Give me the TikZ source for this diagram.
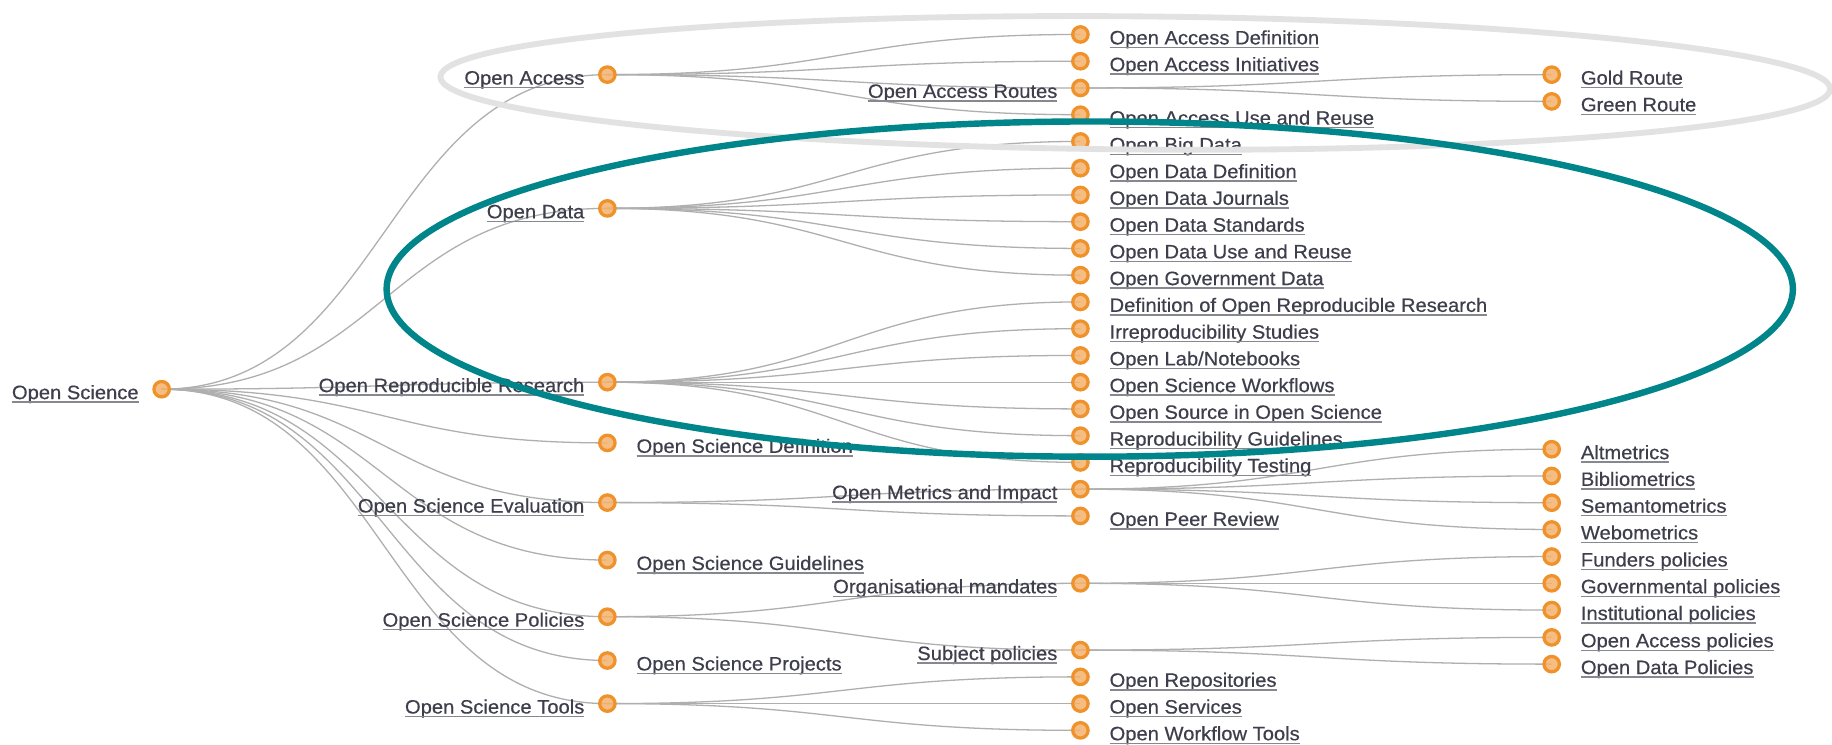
\documentclass[tikz,border=0pt]{standalone}
\usepackage{fontspec}
\newfontfamily\lblfont{Liberation Sans}[FakeStretch=1.04,FakeBold=0.4]
\usetikzlibrary{calc}
\definecolor{txtc}{RGB}{62,62,76}
\definecolor{ulc}{RGB}{135,135,142}
\definecolor{linkc}{RGB}{175,175,175}
\definecolor{dotline}{RGB}{239,146,44}
\definecolor{dotfill}{RGB}{244,178,108}
\definecolor{ringgray}{RGB}{226,226,226}
\definecolor{ringteal}{RGB}{0,133,138}
\newcommand{\lnk}[2]{\draw[link] let \p1=(#1), \p2=(#2) in (\p1) .. controls ({0.5*(\x1+\x2)},\y1) and ({0.5*(\x1+\x2)},\y2) .. (\p2);}
\newcommand{\ltext}[2]{\node[lbl,anchor=base east] (#1-t) at ($(#1)+(-19.7,8.5)$) {#2};
  \draw[ul] ([yshift=-2.6pt]#1-t.base west) -- ([yshift=-2.6pt]#1-t.base east);}
\newcommand{\rtext}[2]{\node[lbl,anchor=base west] (#1-t) at ($(#1)+(25,8.5)$) {#2};
  \draw[ul] ([yshift=-2.6pt]#1-t.base west) -- ([yshift=-2.6pt]#1-t.base east);}
\begin{document}
\begin{tikzpicture}[x=1pt,y=-1pt,
  link/.style={draw=linkc, line width=1.1pt},
  dot/.style={circle, draw=dotline, fill=dotfill, fill opacity=0.85, line width=2.8pt, minimum size=13.2pt, inner sep=0pt},
  lbl/.style={font=\lblfont\fontsize{16.6}{18}\selectfont, text=txtc, inner sep=0pt, outer sep=0pt},
  ul/.style={draw=ulc, line width=1.3pt}]
\fill[white] (0,0) rectangle (1568.5,637);
\useasboundingbox (0,0) rectangle (1568.5,637);
% root
\coordinate (R) at (138.4,333.2);
% level 1
\coordinate (OA)  at (520,63.9);
\coordinate (OD)  at (520,178.4);
\coordinate (ORR) at (520,327.2);
\coordinate (OSD) at (520,379.2);
\coordinate (OSE) at (520,430.3);
\coordinate (OSG) at (520,479.5);
\coordinate (OSP) at (520,528.0);
\coordinate (OSJ) at (520,565.5);
\coordinate (OST) at (520,602.4);
% level 2
\coordinate (OAD)  at (925,29.5);
\coordinate (OAI)  at (925,52.4);
\coordinate (OAR)  at (925,75.3);
\coordinate (OAU)  at (925,98.2);
\coordinate (OBD)  at (925,121.1);
\coordinate (ODD)  at (925,144.0);
\coordinate (ODJ)  at (925,166.9);
\coordinate (ODS)  at (925,189.8);
\coordinate (ODU)  at (925,212.7);
\coordinate (OGD)  at (925,235.6);
\coordinate (DORR) at (925,258.5);
\coordinate (IRS)  at (925,281.4);
\coordinate (OLN)  at (925,304.3);
\coordinate (OSW)  at (925,327.2);
\coordinate (OSOS) at (925,350.1);
\coordinate (RG)   at (925,373.0);
\coordinate (RT)   at (925,395.9);
\coordinate (OMI)  at (925,418.8);
\coordinate (OPR)  at (925,441.7);
\coordinate (OM)   at (925,499.4);
\coordinate (SJP)  at (925,556.6);
\coordinate (ORp)  at (925,579.5);
\coordinate (OSv)  at (925,602.4);
\coordinate (OWT)  at (925,625.3);
% level 3
\coordinate (GoR)  at (1328.5,63.9);
\coordinate (GrR)  at (1328.5,86.8);
\coordinate (Alt)  at (1328.5,384.6);
\coordinate (Bib)  at (1328.5,407.5);
\coordinate (Sem)  at (1328.5,430.4);
\coordinate (Web)  at (1328.5,453.3);
\coordinate (Fund) at (1328.5,476.5);
\coordinate (Gov)  at (1328.5,499.4);
\coordinate (Inst) at (1328.5,522.3);
\coordinate (OAP)  at (1328.5,545.7);
\coordinate (ODP)  at (1328.5,568.6);
% links
\foreach \a/\b in {R/OA,R/OD,R/ORR,R/OSD,R/OSE,R/OSG,R/OSP,R/OSJ,R/OST,
  OA/OAD,OA/OAI,OA/OAR,OA/OAU,OAR/GoR,OAR/GrR,
  OD/OBD,OD/ODD,OD/ODJ,OD/ODS,OD/ODU,OD/OGD,
  ORR/DORR,ORR/IRS,ORR/OLN,ORR/OSW,ORR/OSOS,ORR/RG,ORR/RT,
  OSE/OMI,OSE/OPR,OMI/Alt,OMI/Bib,OMI/Sem,OMI/Web,
  OSP/OM,OSP/SJP,OM/Fund,OM/Gov,OM/Inst,SJP/OAP,SJP/ODP,
  OST/ORp,OST/OSv,OST/OWT}{\lnk{\a}{\b}}
% dots
\foreach \n in {R,OA,OD,ORR,OSD,OSE,OSG,OSP,OSJ,OST,OAD,OAI,OAR,OAU,OBD,ODD,ODJ,ODS,ODU,OGD,
  DORR,IRS,OLN,OSW,OSOS,RG,RT,OMI,OPR,OM,SJP,ORp,OSv,OWT,GoR,GrR,Alt,Bib,Sem,Web,Fund,Gov,Inst,OAP,ODP}
  {\node[dot] (\n-d) at (\n) {};}
% labels
\ltext{R}{Open Science}
\ltext{OA}{Open Access}
\ltext{OD}{Open Data}
\ltext{ORR}{Open Reproducible Research}
\rtext{OSD}{Open Science Definition}
\ltext{OSE}{Open Science Evaluation}
\rtext{OSG}{Open Science Guidelines}
\ltext{OSP}{Open Science Policies}
\rtext{OSJ}{Open Science Projects}
\ltext{OST}{Open Science Tools}
\rtext{OAD}{Open Access Definition}
\rtext{OAI}{Open Access Initiatives}
\ltext{OAR}{Open Access Routes}
\rtext{OAU}{Open Access Use and Reuse}
\rtext{OBD}{Open Big Data}
\rtext{ODD}{Open Data Definition}
\rtext{ODJ}{Open Data Journals}
\rtext{ODS}{Open Data Standards}
\rtext{ODU}{Open Data Use and Reuse}
\rtext{OGD}{Open Government Data}
\rtext{DORR}{Definition of Open Reproducible Research}
\rtext{IRS}{Irreproducibility Studies}
\rtext{OLN}{Open Lab/Notebooks}
\rtext{OSW}{Open Science Workflows}
\rtext{OSOS}{Open Source in Open Science}
\rtext{RG}{Reproducibility Guidelines}
\rtext{RT}{Reproducibility Testing}
\ltext{OMI}{Open Metrics and Impact}
\rtext{OPR}{Open Peer Review}
\ltext{OM}{Organisational mandates}
\ltext{SJP}{Subject policies}
\rtext{ORp}{Open Repositories}
\rtext{OSv}{Open Services}
\rtext{OWT}{Open Workflow Tools}
\rtext{GoR}{Gold Route}
\rtext{GrR}{Green Route}
\rtext{Alt}{Altmetrics}
\rtext{Bib}{Bibliometrics}
\rtext{Sem}{Semantometrics}
\rtext{Web}{Webometrics}
\rtext{Fund}{Funders policies}
\rtext{Gov}{Governmental policies}
\rtext{Inst}{Institutional policies}
\rtext{OAP}{Open Access policies}
\rtext{ODP}{Open Data Policies}
% highlight rings
\draw[draw=ringgray, line width=5pt, rotate around={-0.5:(972,71)}] (972,71) ellipse [x radius=595pt, y radius=57pt];
\draw[draw=ringteal, line width=5.5pt] (933,247.5) ellipse [x radius=602pt, y radius=143.5pt];
\end{tikzpicture}
\end{document}
